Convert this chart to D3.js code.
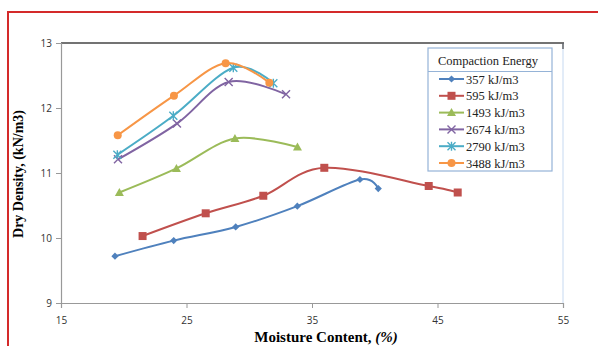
<!DOCTYPE html>
<html><head><meta charset="utf-8">
<script src="https://cdn.jsdelivr.net/npm/d3@7"></script>
<style>body{margin:0;background:#fff}svg{display:block}</style>
</head><body>
<svg id="c" width="598" height="346"></svg>
<script>
const seriesNames = ["357 kJ/m3","595 kJ/m3","1493 kJ/m3","2674 kJ/m3","2790 kJ/m3","3488 kJ/m3"];
const colors = ["#4F81BD","#C0504D","#9BBB59","#8064A2","#4BACC6","#F79646"];
const markers = ["diamond","square","triangle","x","star","circle"];
const moisture357 = [19.3,23.98,28.92,33.83,38.82,40.28];
const density357  = [9.72,9.96,10.17,10.49,10.90,10.76];
const moisture595 = [21.5,26.53,31.12,35.98,44.3,46.61];
const density595  = [10.03,10.38,10.65,11.08,10.80,10.70];
const moisture1493 = [19.65,24.2,28.86,33.84];
const density1493  = [10.70,11.07,11.53,11.40];
const moisture2674 = [19.54,24.24,28.36,32.93];
const density2674  = [11.21,11.76,12.40,12.21];
const moisture2790 = [19.49,23.95,28.73,31.92];
const density2790  = [11.28,11.88,12.62,12.38];
const moisture3488 = [19.52,24.0,28.12,31.6];
const density3488  = [11.58,12.19,12.69,12.39];
const xTicks = [15,25,35,45,55];
const yTicks = [9,10,11,12,13];

const xs = [moisture357,moisture595,moisture1493,moisture2674,moisture2790,moisture3488];
const ys = [density357,density595,density1493,density2674,density2790,density3488];
const series = seriesNames.map((n,i)=>({name:n,color:colors[i],marker:markers[i],pts:xs[i].map((x,j)=>({x:x,y:ys[i][j]}))}));

const svg = d3.select("#c");
const L=61,R=563,T=43,B=303;
const x = d3.scaleLinear().domain([15,55]).range([L,R]);
const y = d3.scaleLinear().domain([9,13]).range([B,T]);

// red frame
svg.append("line").attr("x1",8).attr("x2",598).attr("y1",12).attr("y2",12).attr("stroke","#d42a2a").attr("stroke-width",2);
svg.append("line").attr("x1",8).attr("x2",8).attr("y1",11).attr("y2",346).attr("stroke","#d42a2a").attr("stroke-width",2);

// plot frame
svg.append("line").attr("x1",L).attr("x2",R+1).attr("y1",T).attr("y2",T).attr("stroke","#444").attr("stroke-width",1.6);
svg.append("line").attr("x1",R).attr("x2",R).attr("y1",T).attr("y2",B).attr("stroke","#c6d9f1").attr("stroke-width",1);
svg.append("line").attr("x1",R).attr("x2",R).attr("y1",T).attr("y2",T+6).attr("stroke","#444").attr("stroke-width",1.2);

const ya = svg.append("g").attr("transform",`translate(${L},0)`).call(d3.axisLeft(y).tickValues(yTicks).tickSize(5).tickFormat(d3.format("d")));
const xa = svg.append("g").attr("transform",`translate(0,${B})`).call(d3.axisBottom(x).tickValues(xTicks).tickSize(5).tickFormat(d3.format("d")));
[ya,xa].forEach(g=>{
  g.select(".domain").attr("stroke","#999").attr("stroke-width",1.2);
  g.selectAll(".tick line").attr("stroke","#999");
  g.selectAll("text").attr("fill","#333").style("font-family","'Open Sans','DejaVu Sans',sans-serif").style("font-size","10px");
});
ya.selectAll("text").attr("x",-9);
xa.selectAll("text").attr("y",14);

// titles
svg.append("text").attr("x",326).attr("y",342).attr("text-anchor","middle")
  .style("font-family","'Liberation Serif','Times New Roman',serif").style("font-size","15px").style("font-weight","bold")
  .html('Moisture Content, <tspan font-style="italic">(%)</tspan>');
svg.append("text").attr("transform","translate(23,174) rotate(-90)").attr("text-anchor","middle")
  .style("font-family","'Liberation Serif','Times New Roman',serif").style("font-size","14px").style("font-weight","bold")
  .text("Dry Density, (kN/m3)");

// series
const line = d3.line().x(d=>x(d.x)).y(d=>y(d.y)).curve(d3.curveCardinal.tension(0));
function drawMarker(g,type,color,cx,cy){
  const s=3.6;
  if(type==="diamond") g.append("path").attr("d",`M${cx},${cy-s}L${cx+s},${cy}L${cx},${cy+s}L${cx-s},${cy}Z`).attr("fill",color);
  else if(type==="square") g.append("rect").attr("x",cx-4).attr("y",cy-4).attr("width",8).attr("height",8).attr("fill",color);
  else if(type==="triangle") g.append("path").attr("d",`M${cx},${cy-4.5}L${cx+4.5},${cy+3.5}L${cx-4.5},${cy+3.5}Z`).attr("fill",color);
  else if(type==="circle") g.append("circle").attr("cx",cx).attr("cy",cy).attr("r",4).attr("fill",color);
  else if(type==="x"){
    g.append("path").attr("d",`M${cx-4},${cy-4}L${cx+4},${cy+4}M${cx-4},${cy+4}L${cx+4},${cy-4}`).attr("stroke",color).attr("stroke-width",1.4);
  } else if(type==="star"){
    g.append("path").attr("d",`M${cx-4},${cy-4}L${cx+4},${cy+4}M${cx-4},${cy+4}L${cx+4},${cy-4}M${cx},${cy-4.5}L${cx},${cy+4.5}`).attr("stroke",color).attr("stroke-width",1.4);
  }
}
series.forEach(s=>{
  const g=svg.append("g");
  g.append("path").datum(s.pts).attr("d",line).attr("fill","none").attr("stroke",s.color).attr("stroke-width",2);
  s.pts.forEach(p=>drawMarker(g,s.marker,s.color,x(p.x),y(p.y)));
});

// legend
const lg = svg.append("g");
lg.append("rect").attr("x",428).attr("y",48).attr("width",124).attr("height",123).attr("fill","#fff").attr("stroke","#95b3d7").attr("stroke-width",1.2);
lg.append("line").attr("x1",428).attr("x2",552).attr("y1",71.5).attr("y2",71.5).attr("stroke","#95b3d7").attr("stroke-width",1);
lg.append("text").attr("x",488).attr("y",65).attr("text-anchor","middle")
  .style("font-family","'Liberation Serif','Times New Roman',serif").style("font-size","12.5px").attr("fill","#222").text("Compaction Energy");
series.forEach((s,i)=>{
  const cy = 79 + i*16.8;
  lg.append("line").attr("x1",439).attr("x2",464).attr("y1",cy).attr("y2",cy).attr("stroke",s.color).attr("stroke-width",2);
  drawMarker(lg,s.marker,s.color,451.5,cy);
  lg.append("text").attr("x",466).attr("y",cy+4.5)
    .style("font-family","'Liberation Serif','Times New Roman',serif").style("font-size","12.5px").attr("fill","#222").text(s.name);
});
</script>
</body></html>
